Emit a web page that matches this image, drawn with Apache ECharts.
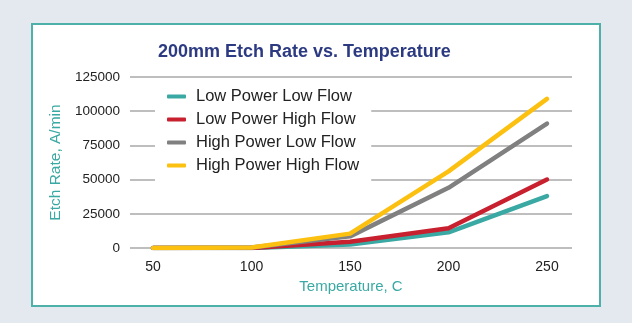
<!DOCTYPE html>
<html>
<head>
<meta charset="utf-8">
<style>
  html, body { margin: 0; padding: 0; background: #e4e9f0; }
  #chart { width: 632px; height: 323px; }
</style>
<script src="https://cdn.jsdelivr.net/npm/echarts@6/dist/echarts.min.js"></script>
</head>
<body>
<div id="chart"></div>
<script>
// Temperature (C) and etch rate (A/min) per process condition
const temperatures = [50, 100, 150, 200, 250];
const lowPowerLowFlow = [0, 0, 2500, 11500, 38000];
const lowPowerHighFlow = [0, 0, 4500, 14500, 50000];
const highPowerLowFlow = [0, 300, 8500, 44000, 91000];
const highPowerHighFlow = [0, 300, 10500, 56000, 109000];
const seriesNames = ['Low Power Low Flow', 'Low Power High Flow', 'High Power Low Flow', 'High Power High Flow'];
const seriesColors = ['#3aa9a3', '#c8202f', '#808080', '#fcc010'];
const yTicks = [0, 25000, 50000, 75000, 100000, 125000];

const seriesValues = [lowPowerLowFlow, lowPowerHighFlow, highPowerLowFlow, highPowerHighFlow];
const font = 'Liberation Sans, Arial, sans-serif';

const chart = echarts.init(document.getElementById('chart'), null, { renderer: 'canvas' });
chart.setOption({
  backgroundColor: '#e4e9f0',
  animation: false,
  graphic: [{
    type: 'rect',
    z: -10,
    shape: { x: 32, y: 24, width: 568, height: 282 },
    style: { fill: '#ffffff', stroke: '#4db1a9', lineWidth: 2 }
  }],
  title: {
    text: '200mm Etch Rate vs. Temperature',
    left: 153,
    top: 38,
    textStyle: { fontFamily: font, fontSize: 18, fontWeight: 'bold', color: '#2c3a82' }
  },
  legend: {
    orient: 'vertical',
    left: 155,
    top: 81,
    backgroundColor: '#ffffff',
    padding: [7, 12, 7, 12],
    itemGap: 6,
    itemWidth: 19,
    itemHeight: 4,
    icon: 'roundRect',
    data: seriesNames,
    textStyle: { fontFamily: font, fontSize: 16.5, color: '#222', lineHeight: 16, padding: [0, 0, 0, 5] },
    z: 10
  },
  grid: { left: 130, right: 60, top: 77, bottom: 75, containLabel: false },
  xAxis: {
    type: 'value',
    min: 38.3,
    max: 262.7,
    name: 'Temperature, C',
    nameLocation: 'middle',
    nameGap: 31,
    nameTextStyle: { fontFamily: font, fontSize: 15, color: '#3aa9a3' },
    axisLine: { show: false },
    axisTick: { show: false },
    splitLine: { show: false },
    axisLabel: {
      customValues: temperatures,
      fontFamily: font, fontSize: 14, color: '#222', margin: 12
    }
  },
  yAxis: {
    type: 'value',
    min: 0,
    max: 125000,
    interval: 25000,
    name: 'Etch Rate, A/min',
    nameLocation: 'middle',
    nameGap: 58,
    nameTextStyle: { fontFamily: font, fontSize: 15.5, color: '#3aa9a3' },
    axisLine: { show: false },
    axisTick: { show: false },
    splitLine: { lineStyle: { color: '#a9a9a9', width: 1.5 } },
    axisLabel: {
      customValues: yTicks,
      formatter: (v) => String(v),
      fontFamily: font, fontSize: 13.5, color: '#222', margin: 10
    }
  },
  series: seriesNames.map((name, i) => ({
    name: name,
    type: 'line',
    data: temperatures.map((t, j) => [t, seriesValues[i][j]]),
    showSymbol: false,
    symbol: 'none',
    color: seriesColors[i],
    lineStyle: { width: 4.5, color: seriesColors[i], cap: 'round', join: 'round' },
    z: 2 + i
  }))
});
</script>
</body>
</html>
